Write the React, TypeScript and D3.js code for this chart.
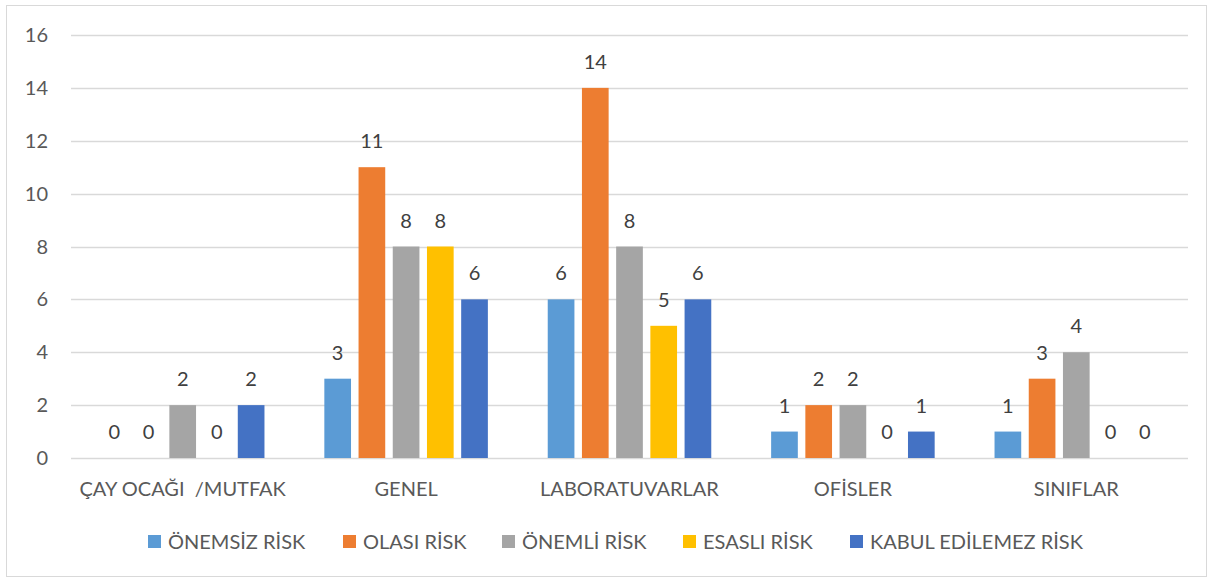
import React, { useEffect, useRef } from "react";
import * as d3 from "d3";

const categories = ["ÇAY OCAĞI  /MUTFAK", "GENEL", "LABORATUVARLAR", "OFİSLER", "SINIFLAR"];
const seriesNames = ["ÖNEMSİZ RİSK", "OLASI RİSK", "ÖNEMLİ RİSK", "ESASLI RİSK", "KABUL EDİLEMEZ RİSK"];
const onemsiz = [0, 3, 6, 1, 1];
const olasi = [0, 11, 14, 2, 3];
const onemli = [2, 8, 8, 2, 4];
const esasli = [0, 8, 5, 0, 0];
const kabul = [2, 6, 6, 1, 0];
const yTicks = [0, 2, 4, 6, 8, 10, 12, 14, 16];
const colors = ["#5B9BD5", "#ED7D31", "#A5A5A5", "#FFC000", "#4472C4"];

const W = 1213;
const H = 581;
const FONT = "Lato, 'Open Sans', sans-serif";

const App = () => {
  const ref = useRef<SVGSVGElement>(null);

  useEffect(() => {
    const svg = d3.select(ref.current);
    svg.selectAll("*").remove();
    const series = [onemsiz, olasi, onemli, esasli, kabul];

    svg.append("rect")
      .attr("x", 6.5).attr("y", 5.5)
      .attr("width", W - 13).attr("height", H - 10)
      .attr("fill", "white").attr("stroke", "#d9d9d9");

    const left = 71, right = 1188, top = 35, bottom = 458;
    const y = d3.scaleLinear().domain([0, 16]).range([bottom, top]);
    const x0 = d3.scaleBand<number>()
      .domain(d3.range(categories.length))
      .range([left, right])
      .paddingInner(0.268).paddingOuter(0.134);
    const x1 = d3.scaleBand<number>()
      .domain(d3.range(series.length))
      .range([0, x0.bandwidth()])
      .paddingInner(0.22).paddingOuter(0);

    // grid
    svg.append("g").selectAll("line").data(yTicks).enter().append("line")
      .attr("x1", left).attr("x2", right)
      .attr("y1", d => Math.round(y(d)) + 0.5).attr("y2", d => Math.round(y(d)) + 0.5)
      .attr("stroke", "#d9d9d9").attr("stroke-width", 1.3);

    svg.append("g").selectAll("text").data(yTicks).enter().append("text")
      .attr("x", 48).attr("y", d => y(d))
      .attr("dy", "0.35em")
      .attr("text-anchor", "end")
      .attr("font-family", FONT).attr("font-size", 20)
      .attr("fill", "#595959")
      .text(d => d);

    const groups = svg.append("g").selectAll("g").data(categories).enter().append("g")
      .attr("transform", (_, i) => `translate(${x0(i)},0)`);

    series.forEach((vals, s) => {
      groups.append("rect")
        .attr("x", x1(s)!)
        .attr("y", (_, i) => y(vals[i]))
        .attr("width", x1.bandwidth())
        .attr("height", (_, i) => bottom - y(vals[i]))
        .attr("fill", colors[s]);
      groups.append("text")
        .attr("x", x1(s)! + x1.bandwidth() / 2)
        .attr("y", (_, i) => y(vals[i]) - 19)
        .attr("text-anchor", "middle")
        .attr("font-family", FONT).attr("font-size", 20)
        .attr("fill", "#404040")
        .text((_, i) => vals[i]);
    });

    svg.append("g").selectAll("text").data(categories).enter().append("text")
      .attr("x", (_, i) => x0(i)! + x0.bandwidth() / 2)
      .attr("y", 489)
      .attr("dy", "0.35em")
      .attr("text-anchor", "middle")
      .attr("font-family", FONT).attr("font-size", 20)
      .attr("fill", "#595959")
      .style("white-space", "pre")
      .text(d => d);

    const legendX = [148, 343, 502, 683, 850];
    const leg = svg.append("g").selectAll("g").data(seriesNames).enter().append("g")
      .attr("transform", (_, i) => `translate(${legendX[i]},535)`);
    leg.append("rect").attr("width", 13).attr("height", 13).attr("fill", (_, i) => colors[i]);
    leg.append("text")
      .attr("x", 20).attr("y", 6.5).attr("dy", "0.35em")
      .attr("font-family", FONT).attr("font-size", 20)
      .attr("fill", "#595959")
      .text(d => d);
  }, []);

  return (
    <svg ref={ref} width={W} height={H} style={{ position: "absolute", left: 0, top: 0 }} />
  );
};

export default App;
